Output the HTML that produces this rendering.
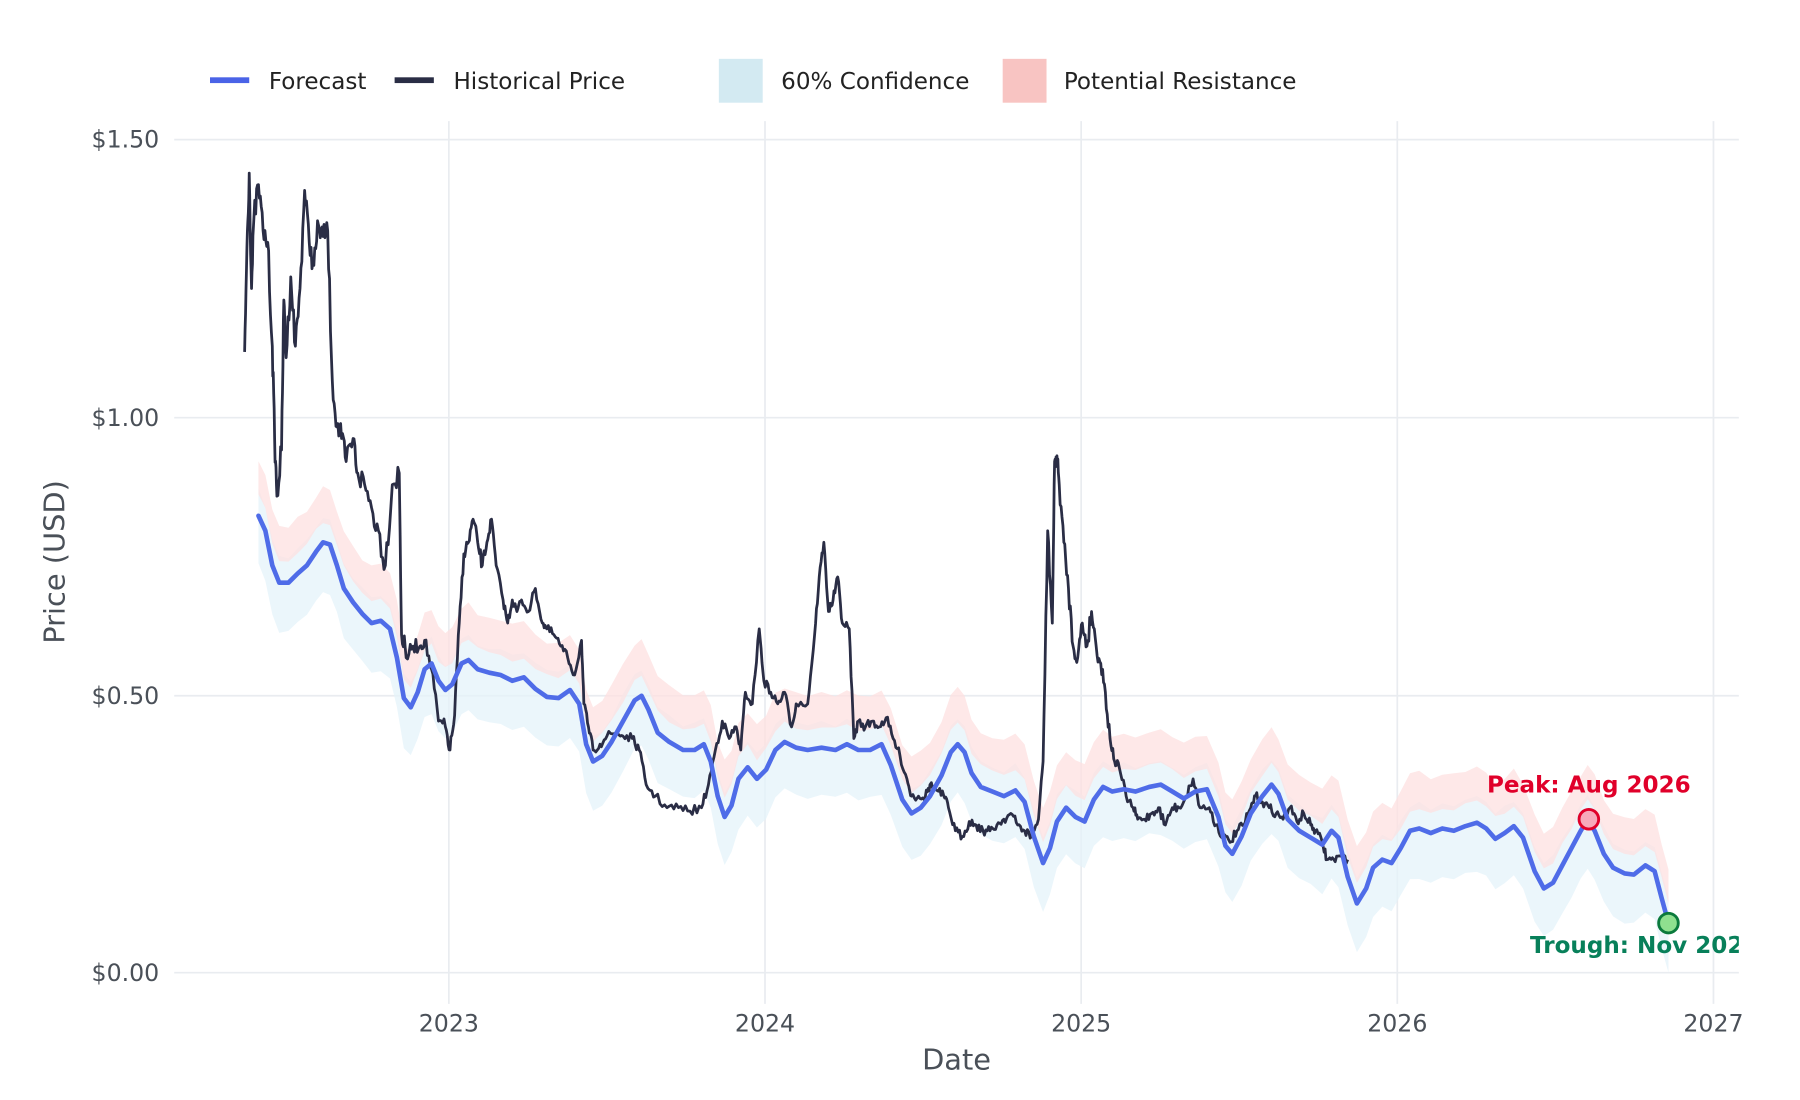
<!DOCTYPE html>
<html><head><meta charset="utf-8"><style>html,body{margin:0;padding:0;background:#fff}svg{display:block}</style></head>
<body>
<svg id="s" width="1800" height="1100" viewBox="0 0 1560 953.33" font-family="'DejaVu Sans','Liberation Sans',sans-serif">
<defs><clipPath id="c"><rect x="151" y="100" width="1356" height="760"/></clipPath></defs>
<g stroke="#e9ecf0" stroke-width="1.5">
<line x1="151" x2="1507" y1="121" y2="121"/><line x1="151" x2="1507" y1="362" y2="362"/><line x1="151" x2="1507" y1="603" y2="603"/><line x1="151" x2="1507" y1="843" y2="843"/>
<line x1="389" x2="389" y1="105" y2="870"/><line x1="663" x2="663" y1="105" y2="870"/><line x1="937" x2="937" y1="105" y2="870"/><line x1="1211" x2="1211" y1="105" y2="870"/><line x1="1485" x2="1485" y1="105" y2="870"/>
</g>
<g fill="#4a5058" font-size="20.5" text-anchor="end">
<text x="138" y="128">$1.50</text><text x="138" y="369">$1.00</text><text x="138" y="610">$0.50</text><text x="138" y="850">$0.00</text></g>
<g fill="#4a5058" font-size="20.5" text-anchor="middle">
<text x="389" y="894">2023</text><text x="663" y="894">2024</text><text x="937" y="894">2025</text><text x="1211" y="894">2026</text><text x="1485" y="894">2027</text></g>
<text x="829" y="927" font-size="25" fill="#4a5058" text-anchor="middle">Date</text>
<text transform="translate(56,487) rotate(-90)" font-size="25" fill="#4a5058" text-anchor="middle">Price (USD)</text>
<g font-size="20" fill="#222">
<rect x="182" y="67" width="34" height="5" fill="#4a63e7"/><text x="233" y="77">Forecast</text>
<rect x="342" y="67" width="34" height="5" fill="#2a2d45"/><text x="393" y="77">Historical Price</text>
<rect x="623" y="51" width="38" height="38" fill="#d3eaf2"/><text x="677" y="77">60% Confidence</text>
<rect x="869" y="51" width="38" height="38" fill="#f8c4c2"/><text x="922" y="77">Potential Resistance</text>
</g>
<g clip-path="url(#c)">
<path id="band" fill="#e4f3f9" opacity="0.75"/>
<path id="res" fill="#fde0e0" opacity="0.75"/>
<path id="hist" fill="none" stroke="#2a2d45" stroke-width="2.4" stroke-linejoin="round"/>
<path id="fc" fill="none" stroke="#4f6ce8" stroke-width="4" stroke-linejoin="round" stroke-linecap="round"/>
<circle cx="1377" cy="710" r="8.5" fill="#f7a9bb" stroke="#e0002a" stroke-width="2.5"/>
<circle cx="1446" cy="800" r="8.5" fill="#8fe08f" stroke="#0b7a3c" stroke-width="2.5"/>
<text x="1377" y="687" font-size="20" font-weight="bold" fill="#e0002a" text-anchor="middle">Peak: Aug 2026</text>
<text x="1326" y="826" font-size="20" font-weight="bold" fill="#08805a">Trough: Nov 2026</text>
</g>
</svg>
<script>
var F=[[224,447],[230,460],[236,490],[242,505],[250,505],[258,497],[266,490],[274,478],[280,470],[286,472],[292,490],[298,510],[306,522],[314,532],[322,540],[330,538],[338,545],[344,570],[350,605],[356,613],[362,600],[368,580],[374,575],[380,590],[386,598],[392,593],[400,575],[406,572],[414,580],[424,583],[434,585],[444,590],[454,587],[464,597],[474,604],[484,605],[494,598],[502,610],[508,645],[514,660],[522,655],[530,643],[540,625],[550,607],[556,603],[562,615],[570,635],[580,643],[592,650],[602,650],[610,645],[616,660],[622,690],[628,708],[634,698],[640,675],[648,665],[656,675],[664,667],[672,650],[680,643],[690,648],[700,650],[712,648],[724,650],[734,645],[744,650],[754,650],[764,645],[772,663],[782,693],[790,705],[798,700],[806,690],[816,672],[824,652],[830,645],[836,652],[842,670],[850,682],[860,686],[870,690],[880,685],[888,695],[896,725],[904,748],[910,735],[916,712],[924,700],[932,708],[940,712],[948,693],[956,682],[964,686],[974,684],[984,686],[996,682],[1006,680],[1016,686],[1026,692],[1036,686],[1046,684],[1056,708],[1062,733],[1068,740],[1076,725],[1084,705],[1094,690],[1102,680],[1108,688],[1116,710],[1126,720],[1136,726],[1146,732],[1154,720],[1160,726],[1168,760],[1176,783],[1184,770],[1190,752],[1198,745],[1206,748],[1214,735],[1222,720],[1230,718],[1240,722],[1250,718],[1260,720],[1270,716],[1280,713],[1288,718],[1296,727],[1304,722],[1312,716],[1320,726],[1330,755],[1338,770],[1346,765],[1354,750],[1362,735],[1370,720],[1376,710],[1382,720],[1390,740],[1398,752],[1408,757],[1416,758],[1426,750],[1434,755],[1440,778],[1446,800]];
var H=[[212,305],[214,215],[216,150],[218,250],[220,190],[224,160],[228,200],[232,210],[236,300],[238,380],[240,430],[244,390],[246,260],[248,310],[252,240],[256,300],[260,250],[264,165],[268,210],[272,230],[276,195],[280,205],[284,200],[288,330],[292,370],[296,380],[300,400],[306,380],[310,410],[316,420],[322,440],[328,460],[334,490],[340,420],[346,410],[348,550],[352,570],[358,560],[364,560],[368,555],[374,580],[380,625],[386,630],[390,650],[394,620],[398,540],[402,480],[406,470],[410,450],[414,470],[418,490],[422,470],[426,450],[430,490],[436,520],[440,540],[444,520],[448,530],[452,520],[458,530],[464,510],[470,540],[474,545],[480,550],[486,560],[492,570],[498,585],[504,555],[506,610],[510,630],[514,650],[520,645],[526,638],[534,635],[540,638],[548,640],[554,650],[560,680],[568,690],[578,700],[588,700],[598,703],[608,700],[614,680],[620,650],[626,625],[632,640],[638,630],[642,650],[646,600],[652,610],[658,545],[662,590],[668,600],[674,610],[680,600],[686,630],[690,610],[700,610],[706,550],[710,500],[714,470],[718,530],[722,520],[726,500],[730,540],[736,545],[740,640],[744,625],[750,630],[756,625],[762,630],[768,622],[774,640],[780,655],[786,675],[790,690],[796,690],[802,690],[806,680],[812,685],[818,690],[822,700],[828,720],[834,725],[840,712],[846,715],[852,720],[858,720],[864,715],[870,710],[876,705],[882,715],[888,720],[894,725],[900,710],[904,660],[908,460],[912,540],[914,400],[916,395],[918,420],[922,470],[926,510],[930,560],[934,570],[938,540],[942,560],[946,530],[950,560],[954,575],[958,600],[962,640],[966,660],[970,665],[976,690],[982,700],[986,710],[992,710],[998,705],[1004,700],[1010,715],[1016,700],[1022,700],[1028,690],[1034,675],[1040,700],[1048,700],[1054,715],[1060,725],[1066,730],[1072,720],[1078,715],[1084,700],[1088,690],[1094,695],[1100,700],[1106,705],[1112,710],[1118,700],[1124,712],[1130,705],[1136,715],[1140,720],[1146,730],[1150,745],[1156,745],[1162,742],[1168,745]];
function p(a){return 'M'+a.map(function(q){return q[0].toFixed(1)+','+q[1].toFixed(1)}).join('L');}
document.getElementById('fc').setAttribute('d',p(F));
var seed=7;function r(){seed=(seed*16807)%2147483647;return seed/2147483647-0.5;}
function band(a,b,j){var up=[],dn=[];F.forEach(function(q){up.push([q[0],q[1]+a+r()*j]);});F.slice().reverse().forEach(function(q){dn.push([q[0],q[1]+b+r()*j]);});return p(up.concat(dn))+'Z';}
document.getElementById('band').setAttribute('d',band(-22,42,4));
document.getElementById('res').setAttribute('d',band(-48,-18,4));
var h=[];for(var i=0;i<H.length-1;i++){var a=H[i],b=H[i+1];var n=5;for(var k=0;k<n;k++){var t=k/n;var amp=a[0]<350?22:(a[0]<420?12:(a[0]>900&&a[0]<960?16:8));h.push([a[0]+(b[0]-a[0])*t,a[1]+(b[1]-a[1])*t+(k?r()*amp:0)]);}}h.push(H[H.length-1]);
document.getElementById('hist').setAttribute('d',p(h));
</script>
</body></html>
